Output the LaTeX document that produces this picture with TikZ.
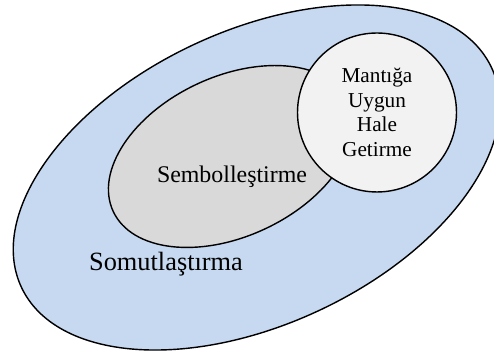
\documentclass[tikz,border=0pt]{standalone}
\usepackage{fontspec}
\setmainfont{Liberation Serif}
\usetikzlibrary{shapes.geometric}
\definecolor{somutblue}{RGB}{198,217,240}
\definecolor{sembolgray}{RGB}{217,217,217}
\definecolor{mantikgray}{RGB}{242,242,242}

\begin{document}
\begin{tikzpicture}[x=0.02cm,y=0.02cm,line width=0.8pt]
      \tikzstyle{blob} = [draw=black,inner sep=0pt,outer sep=0pt]
      \tikzstyle{word} = [color=black,align=center,inner sep=0pt]
      \clip (0,0) rectangle (494,354);
      \node (somut) [blob,ellipse,fill=somutblue,rotate=25,
        minimum width=10.38cm,minimum height=5.88cm] at (256.5,176.5) {};
      \node (sembol) [blob,ellipse,fill=sembolgray,rotate=25,
        minimum width=5.2cm,minimum height=3.2cm] at (231,197.5) {};
      \node (mantik) [blob,circle,fill=mantikgray,minimum size=3.18cm] at (377,241.5) {};
      \node (sembolText) [word,font=\fontsize{13.6}{16}\selectfont] at (232,177) {Sembolleştirme};
      \node (somutText) [word,font=\fontsize{15}{18}\selectfont] at (166,90) {Somutlaştırma};
      \node (mantikText) [word,font=\fontsize{12.1}{14}\selectfont] at (mantik.center)
        {Mantığa\\Uygun\\Hale\\Getirme};
    \end{tikzpicture}
\end{document}
